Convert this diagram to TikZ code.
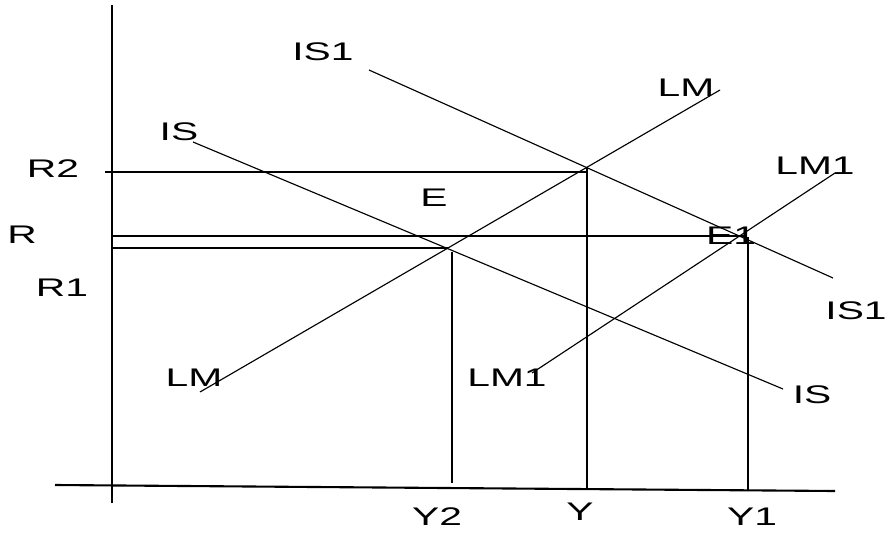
\documentclass[tikz,border=0pt]{standalone}
\usepackage{fontspec}
\setmainfont{Liberation Sans}
\usepackage{graphicx}
\usetikzlibrary{calc}

\newcommand{\wide}[1]{\scalebox{1.6}[1]{#1}}

\begin{document}
\begin{tikzpicture}[x=0.02cm, y=-0.02cm]
  \tikzstyle{axis} = [line width=1.2pt]
  \tikzstyle{curve} = [line width=0.65pt]
  \tikzstyle{guide} = [line width=0.8pt]
  \tikzstyle{drop} = [line width=1.1pt]
  \tikzstyle{lbl} = [font=\fontsize{14.5}{15}\selectfont, inner sep=0pt]
  \useasboundingbox (0,0) rectangle (889,534);

  % axes
  \coordinate (ytop) at (112,5);
  \coordinate (ybot) at (112,503);
  \coordinate (xleft) at (55,485);
  \coordinate (xright) at (835,491);
  \draw[axis] (ybot) -- (ytop);
  \draw[axis] (xleft) -- (xright);

  % IS and LM curves
  \coordinate (isa) at (193,142);   \coordinate (isb) at (783,389);
  \coordinate (isonea) at (369,70); \coordinate (isoneb) at (833,278);
  \coordinate (lma) at (200,392);   \coordinate (lmb) at (720,90);
  \coordinate (lmonea) at (532,373); \coordinate (lmoneb) at (835,173);
  \draw[curve] (isa) -- (isb);
  \draw[curve] (isonea) -- (isoneb);
  \draw[curve] (lma) -- (lmb);
  \draw[curve] (lmonea) -- (lmoneb);

  % equilibria and guide lines
  \coordinate (E) at (448,248);
  \coordinate (Ez) at (587,167);
  \coordinate (Eone) at (747,237);
  \draw[guide] (105,172) coordinate (rtwo) -- (Ez |- rtwo);
  \draw[guide] (112,236) coordinate (r) -- (Eone |- r);
  \draw[guide] (112,248) coordinate (rone) -- (E);
  \draw[drop] (Ez) -- (587,490) coordinate (y);
  \draw[drop] (452,252) coordinate (ytwotop) -- (452,483) coordinate (ytwo);
  \draw[drop] (748,237) coordinate (yonetop) -- (748,490) coordinate (yone);

  % labels
  \node[lbl] (lrtwo) at (53,169) {\wide{R2}};
  \node[lbl] (lr) at (22,235) {\wide{R}};
  \node[lbl] (lrone) at (62,288) {\wide{R1}};
  \node[lbl] (lisone) at (323,52) {\wide{IS1}};
  \node[lbl] (lis) at (179,132) {\wide{IS}};
  \node[lbl] (llm) at (686,88) {\wide{LM}};
  \node[lbl] (llmone) at (815,166) {\wide{LM1}};
  \node[lbl] (lE) at (434,198) {\wide{E}};
  \node[lbl] (lEone) at (731,236) {\wide{E1}};
  \node[lbl] (lisoner) at (856,311) {\wide{IS1}};
  \node[lbl] (lisr) at (812,395) {\wide{IS}};
  \node[lbl] (llml) at (194,378) {\wide{LM}};
  \node[lbl] (llmonel) at (507,378) {\wide{LM1}};
  \node[lbl] (lytwo) at (437,517) {\wide{Y2}};
  \node[lbl] (ly) at (580,512) {\wide{Y}};
  \node[lbl] (lyone) at (752,517) {\wide{Y1}};
\end{tikzpicture}
\end{document}
